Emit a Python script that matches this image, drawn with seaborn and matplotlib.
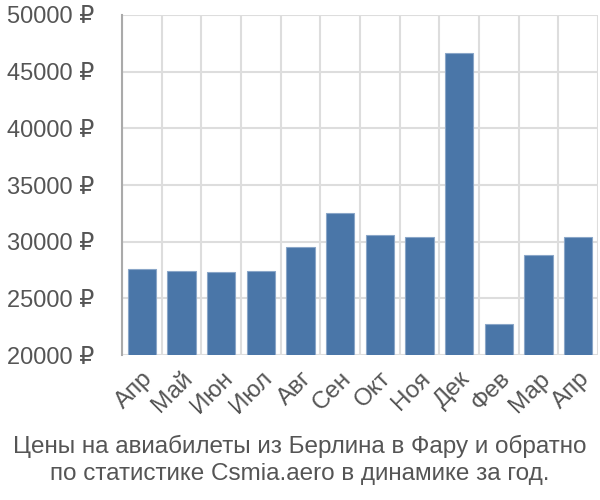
import matplotlib
matplotlib.use("Agg")
import matplotlib.pyplot as plt
import seaborn as sns
import numpy as np
import pandas as pd
from matplotlib.ticker import FixedLocator

months = ["Апр", "Май", "Июн", "Июл", "Авг", "Сен", "Окт", "Ноя", "Дек", "Фев", "Мар", "Апр"]
prices = [27600, 27400, 27300, 27400, 29500, 32500, 30600, 30400, 46650, 22700, 28800, 30400]
yticks = [20000, 25000, 30000, 35000, 40000, 45000, 50000]
title = "Цены на авиабилеты из Берлина в Фару и обратно\nпо статистике Csmia.aero в динамике за год."

sns.set_style("white")
plt.rcParams['font.family'] = ['Liberation Sans', 'DejaVu Sans']

df = pd.DataFrame({"pos": [f"{i}_{m}" for i, m in enumerate(months)], "price": prices})

fig = plt.figure(figsize=(6, 5), dpi=100)
ax = fig.add_axes([122/600, (500-355)/500, 476/600, 340/500])
sns.barplot(data=df, x="pos", y="price", ax=ax, color="#4a76a8", saturation=1,
            width=0.71, edgecolor="#8aa6c8", linewidth=0.8, zorder=3)

ax.set_ylim(20000, 50000)
ax.set_xlim(-0.5, len(months) - 0.5)
ax.set_yticks(yticks)
ax.set_yticklabels([f"{v} ₽" for v in yticks], fontsize=17, color="#555555")
ax.set_xticks(range(len(months)))
ax.set_xticklabels(months, rotation=45, ha="right", rotation_mode="anchor",
                   fontsize=17.5, color="#555555")
ax.xaxis.set_minor_locator(FixedLocator(np.arange(-0.5, len(months), 1.0)))
ax.tick_params(axis="x", which="major", length=0, pad=9)
ax.tick_params(axis="x", which="minor", length=20, color="#dddddd", width=1.5)
ax.tick_params(axis="y", length=19, color="#dddddd", width=1.5, pad=1)
ax.grid(True, axis="y", color="#dddddd", linewidth=1.5, zorder=0)
ax.grid(True, axis="x", which="minor", color="#dddddd", linewidth=1.5, zorder=0)
ax.set_axisbelow(True)
for s in ["top", "right", "bottom"]:
    ax.spines[s].set_visible(False)
ax.spines["left"].set_color("#aaaaaa")
ax.spines["left"].set_linewidth(1.5)
ax.set_xlabel("")
ax.set_ylabel("")

fig.text(0.5, 1 - 460/500, title, ha="center", va="center", fontsize=17.5,
         color="#555555", linespacing=1.25)
fig.savefig("out.png", dpi=100)
